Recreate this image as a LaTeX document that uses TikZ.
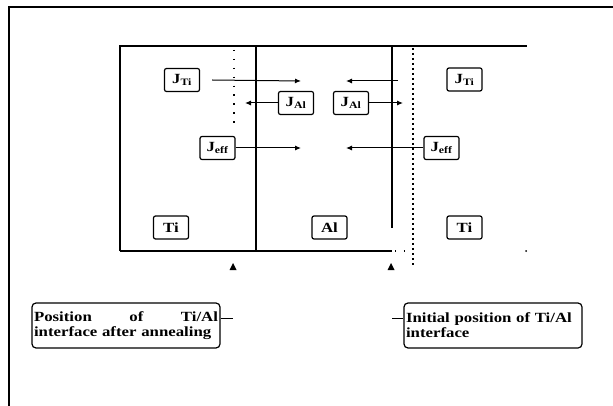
\documentclass[tikz,border=0pt]{standalone}
\usepackage{fontspec}
\setmainfont{Liberation Serif}
\newfontfamily\boxfont[FakeStretch=1.2]{Liberation Serif}
\usetikzlibrary{arrows.meta}

\tikzset{
  jbox/.style={draw, rounded corners=2pt, line width=1.2pt, minimum width=35pt, minimum height=23pt, inner sep=1pt, font=\boxfont\fontsize{14}{16}\selectfont\bfseries},
  lblbox/.style={draw, rounded corners=4pt, line width=1.2pt, minimum height=45pt, inner sep=2pt, font=\boxfont\fontsize{14}{15}\selectfont\bfseries},
  flux/.style={line width=1pt, -{Latex[length=6pt,width=5pt]}},
  wall/.style={line width=1.3pt},
  dotwall/.style={line width=1.4pt, dash pattern=on 1.4pt off 7.5pt},
  densewall/.style={line width=1.4pt, dash pattern=on 2pt off 3pt}
}

\begin{document}
\begin{tikzpicture}[x=1pt, y=-1pt]
  \useasboundingbox (0,0) rectangle (613,406);
  % Outer frame
  \draw[line width=2.2pt] (9,410) -- (9,7) -- (616,7);
  % Layers
  \draw[wall] (120,251) -- (120,46) -- (527,46);
  \draw[wall] (120,251) -- (392,251);
  \draw[dotwall] (395,251) -- (405,251);
  \draw[wall] (256,46) -- (256,251);
  \draw[wall] (392,46) -- (392,228);
  \draw[dotwall] (234,50) -- (234,130);
  \draw[densewall] (413,48) -- (413,266);
  \fill (526,251) circle (1pt);
  % Fluxes
  \node[jbox] (jti1) at (182,80) {J\textsubscript{Ti}};
  \node[jbox] (jal1) at (296,103) {J\textsubscript{Al}};
  \node[jbox] (jal2) at (351,103) {J\textsubscript{Al}};
  \node[jbox] (jti2) at (464.5,79.5) {J\textsubscript{Ti}};
  \node[jbox] (jeff1) at (217.5,148) {J\textsubscript{eff}};
  \node[jbox] (jeff2) at (441.5,148) {J\textsubscript{eff}};
  \coordinate (t1) at (301,81);
  \coordinate (s2) at (398,81);
  \coordinate (t2) at (346,81);
  \coordinate (t3) at (245,103);
  \coordinate (t4) at (403,103);
  \coordinate (t5) at (301,148);
  \coordinate (t6) at (346,148);
  \draw[flux] (jti1.east) ++(12,0) -- (t1);
  \draw[flux] (s2) -- (t2);
  \draw[flux] (jal1.west) -- (t3);
  \draw[flux] (jal2.east) -- (t4);
  \draw[flux] (jeff1.east) -- (t5);
  \draw[flux] (jeff2.west) -- (t6);
  % Layer names
  \node[jbox] (ti1) at (171,227.5) {Ti};
  \node[jbox] (al) at (329.5,227.5) {Al};
  \node[jbox] (ti2) at (464.5,227.5) {Ti};
  % Interface markers
  \foreach \x in {233,391} \fill (\x-3.5,270) -- (\x+3.5,270) -- (\x,263) -- cycle;
  % Labels
  \node[lblbox, text width=184pt, align=left] (after) at (126,325.5) {Position \hfill of \hfill Ti/Al\\interface after annealing};
  \node[lblbox, text width=174pt, align=left] (init) at (493,325.5) {Initial position of Ti/Al\\interface};
  \coordinate (a1) at (233,318);
  \coordinate (a2) at (392,318);
  \draw[line width=1pt] (after.east |- a1) -- (a1);
  \draw[line width=1pt] (init.west |- a2) -- (a2);
\end{tikzpicture}
\end{document}
